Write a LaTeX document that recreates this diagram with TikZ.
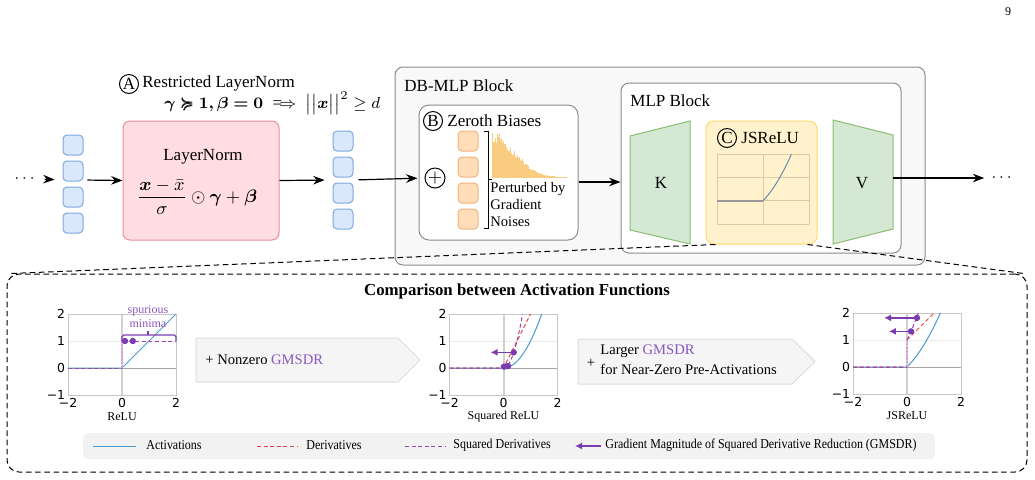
\documentclass[tikz,border=0pt]{standalone}
\usepackage{amsmath,amssymb,bm}
\usepackage{graphicx}
\usepackage{fontspec}
\setmainfont{Liberation Serif}
\newfontfamily\tickfont{DejaVu Sans}
\usetikzlibrary{arrows.meta,positioning,calc}

\definecolor{vecfill}{HTML}{DAE8FC}
\definecolor{vecline}{HTML}{7EA6E0}
\definecolor{lnfill}{HTML}{FFDDE2}
\definecolor{lnline}{HTML}{EA8F9A}
\definecolor{biasfill}{HTML}{FFDDB8}
\definecolor{biasline}{HTML}{F0B37E}
\definecolor{histc}{HTML}{F8C46A}
\definecolor{matfill}{HTML}{D5E8D4}
\definecolor{matline}{HTML}{8DBE72}
\definecolor{jsfill}{HTML}{FFF2CC}
\definecolor{jsline}{HTML}{FFD966}
\definecolor{jsgridc}{HTML}{DCCB9E}
\definecolor{boxline}{HTML}{8C8C8C}
\definecolor{boxfill}{HTML}{F8F8F8}
\definecolor{actc}{HTML}{4C9AD0}
\definecolor{derc}{HTML}{E8454A}
\definecolor{sqc}{HTML}{9A44B0}
\definecolor{sqpink}{HTML}{D99AD6}
\definecolor{gmc}{HTML}{7A3CB0}
\definecolor{gmtxt}{HTML}{8A55C0}
\definecolor{pillfill}{HTML}{F5F5F5}
\definecolor{pillline}{HTML}{DDDDDD}
\definecolor{legfill}{HTML}{F2F2F2}

\newcommand\legtxt[1]{\scalebox{0.88}[1]{#1}}

% axes of one activation plot: #1 label, #2 name prefix
\newcommand\actaxes[2]{%
  \draw[color=black!8, line width=0.4pt] (-2,1) -- (2,1);
  \draw[color=black!18, line width=1pt] (0,-1) -- (0,2);
  \draw[color=black!35, line width=0.5pt] (-2,0) -- (2,0);
  \draw[color=black!22, line width=0.4pt] (-2,-1) rectangle (2,2);
  \foreach \v/\t in {2/2,1/1,0/0,-1/−1}
    \node[tick, anchor=east] (#2y\v) at (-2.02,\v) {\t};
  \foreach \v/\t in {-2/−2,0/0,2/2}
    \node[tick, anchor=north] (#2x\v) at (\v,-1.04) {\t};
  \node[plbl] (#2lbl) at (0,-1.8) {#1};
}

\begin{document}
\begin{tikzpicture}[
  x=0.5pt, y=-0.5pt,
  >=Stealth,
  txt/.style={font=\fontsize{8.5}{10}\selectfont, inner sep=1.5pt},
  smalltxt/.style={font=\fontsize{7.3}{8.6}\selectfont, inner sep=1.5pt},
  tick/.style={font=\tickfont\fontsize{6.2}{7}\selectfont, inner sep=1pt},
  plbl/.style={font=\fontsize{6}{7}\selectfont, inner sep=0pt},
  legt/.style={font=\fontsize{6.8}{8}\selectfont, anchor=west, inner sep=1pt},
  vec/.style={rectangle, rounded corners=2pt, draw=vecline, fill=vecfill, line width=0.5pt, minimum size=10pt, inner sep=0pt},
  bias/.style={vec, draw=biasline, fill=biasfill},
  lnbox/.style={rectangle, rounded corners=3.5pt, draw=lnline, fill=lnfill, line width=0.5pt, minimum width=78pt, minimum height=59.5pt},
  outerbox/.style={rectangle, rounded corners=4pt, draw=boxline, fill=boxfill, line width=0.5pt},
  innerbox/.style={outerbox, fill=white, rounded corners=5pt},
  jsbox/.style={rectangle, rounded corners=4pt, draw=jsline, fill=jsfill, line width=0.5pt, minimum width=55.5pt, minimum height=61.5pt},
  mat/.style={draw=matline, fill=matfill, line width=0.5pt},
  circ/.style={circle, draw, line width=0.5pt, inner sep=0pt, minimum size=9.5pt, font=\fontsize{8.5}{10}\selectfont},
  flow/.style={->, line width=0.6pt},
  act/.style={actc, line width=0.5pt},
  der/.style={derc, line width=0.5pt, dash pattern=on 2pt off 1.3pt},
  sqd/.style={sqc, line width=0.5pt, dash pattern=on 2pt off 1.3pt},
  sqpk/.style={sqpink, line width=1pt, dash pattern=on 1.2pt off 0.6pt},
  gmarr/.style={gmc, line width=0.8pt, -{Latex[length=3.5pt,width=3.5pt]}},
  pill/.style={draw=pillline, fill=pillfill, line width=0.5pt},
  dashbox/.style={rectangle, rounded corners=6pt, draw, line width=0.5pt, dash pattern=on 2.8pt off 1.8pt, minimum width=510pt, minimum height=99pt},
  zoomln/.style={line width=0.5pt, dash pattern=on 2.8pt off 1.8pt}
]
\useasboundingbox (0,0) rectangle (1035,479);

\node[plbl] (pgno) at (1008,12) {9};

% input side
\node[txt] (dotsL) at (26,179) {$\cdots$};
\node[minimum width=10pt, minimum height=49pt, inner sep=0pt] (colL) at (73,180) {};
\foreach \i/\y in {1/145,2/171,3/197,4/223}
  \node[vec] (vecL\i) at (73,\y) {};

\node[lnbox] (ln) at (201,180.5) {};
\node[txt] (lnT) at (203,157) {LayerNorm};
\node[font=\fontsize{9}{10}\selectfont] (lnF) at (197,197) {$\dfrac{\bm{x}-\bar{x}}{\sigma}\odot\bm{\gamma}+\bm{\beta}$};

\node[minimum width=10pt, minimum height=49pt, inner sep=0pt] (colR) at (343,180) {};
\foreach \i/\y in {1/141,2/167,3/193,4/219}
  \node[vec] (vecR\i) at (343,\y) {};

\node[circ] (circA) at (129,84) {A};
\node[txt, anchor=west] (rlnT) at (139,83) {Restricted LayerNorm};
\node[txt, anchor=west] (rlnF) at (161,103) {$\bm{\gamma\succcurlyeq 1,\beta=0}\;\Longrightarrow\;\bigl|\bigl|\bm{x}\bigr|\bigr|^{2}\geq d$};

% DB-MLP block
\node[outerbox, minimum width=265pt, minimum height=99pt] (dbmlp) at (660,166) {};
\node[txt, anchor=west] (dbT) at (401,86) {DB-MLP Block};

\node[innerbox, minimum width=79.5pt, minimum height=67.5pt] (zb) at (498.5,172.5) {};
\node[circ] (circB) at (433,121) {B};
\node[txt, anchor=west] (zbT) at (444,121) {Zeroth Biases};
\node[circle, draw, line width=0.5pt, minimum size=10pt, inner sep=0pt, font=\fontsize{9}{10}\selectfont] (plus) at (435,178) {$+$};
\foreach \i/\y in {1/141,2/167,3/193,4/219}
  \node[bias] (bias\i) at (468,\y) {};
\draw[line width=0.5pt] (484,131) -- (488,131) -- (488,228) -- (484,228);
\draw[line width=0.5pt] (488,179) -- (492,179);
\pgfmathsetseed{7}
\foreach \i in {0,...,74}{
  \pgfmathsetmacro\h{46*exp(-(\i/31)^2)*(0.72+0.28*rnd)+0.8}
  \fill[histc, opacity=0.85] (492+\i,178) rectangle (493+\i,178-\h);
}
\node[smalltxt, anchor=north west, align=left, font=\fontsize{7.3}{8.5}\selectfont] (pert) at (487,179) {Perturbed by\\Gradient\\Noises};

\node[innerbox, minimum width=140pt, minimum height=85pt, rounded corners=4pt] (mlp) at (761,168) {};
\node[txt, anchor=west] (mlpT) at (627,101) {MLP Block};
\draw[mat] (630,136) -- (690,121) -- (690,244) -- (630,230) -- cycle;
\node[txt] (kmat) at (661,183) {K};
\draw[mat] (833,120) -- (893,135) -- (893,229) -- (833,244) -- cycle;
\node[txt] (vmat) at (862,183) {V};
\coordinate (vright) at (893,178);

\node[jsbox] (jsr) at (761.5,182.5) {};
\node[circ] (circC) at (727,138) {C};
\node[txt, anchor=west] (jsT) at (738,138) {JSReLU};
\foreach \xx in {717,763,809}
  \draw[jsgridc, line width=0.5pt] (\xx,154) -- (\xx,224);
\foreach \yy in {154,177.3,200.7,224}
  \draw[jsgridc, line width=0.5pt] (717,\yy) -- (809,\yy);
\draw[black!40, line width=1pt] (717,200.7) -- (763,200.7);
\draw[actc!60!black!70, line width=0.5pt] plot[domain=0:1.236, samples=25] ({763+23*\x},{200.7-23.3*(\x+\x*\x/2)});

\node[txt] (dotsR) at (1003,178) {$\cdots$};

% flow
\draw[flow, shorten <=2pt, shorten >=4pt] (dotsL.east) -- (colL.west);
\draw[flow, shorten <=2pt] (colL.east) -- (ln.west);
\draw[flow, shorten >=4pt] (ln.east) -- (colR.west);
\draw[flow, shorten <=2.5pt, shorten >=3.5pt] (colR.east) -- (plus.west);
\draw[flow] ([yshift=-2pt]plus -| zb.east) -- ([yshift=-2pt]plus -| mlp.west);
\draw[flow, shorten >=2pt] (vright) -- (dotsR.west);

% comparison panel
\node[dashbox] (cmp) at (517,373) {};
\draw[zoomln] ([xshift=5pt]jsr.south west) -- ([xshift=2pt]cmp.north west);
\draw[zoomln] ([xshift=-5pt]jsr.south east) -- ([xshift=-2pt]cmp.north east);
\node[font=\bfseries\fontsize{8.4}{10}\selectfont] (cmpT) at (517,291) {Comparison between Activation Functions};

% ReLU
\begin{scope}[shift={(122,368)}, x=13.5pt, y=13.5pt]
  \actaxes{ReLU}{relu}
  \draw[act] (-2,0) -- (0,0) -- (2,2);
  \draw[der] (-2,0) -- (0,0) (0,1) -- (2,1);
  \draw[sqpk] (0,0) -- (0,1);
  \draw[sqd] (-2,0) -- (0,0) (0,1) -- (2,1);
  \fill[gmc] (0.11,1) circle (1.6pt) (0.4,1) circle (1.6pt);
  \draw[gmc, line width=0.6pt, rounded corners=0.8pt] (0,1) -- (0,1.22) -- (2,1.22) -- (2,1);
  \draw[gmc, line width=0.6pt] (0.96,1.22) -- (0.96,1.36);
  \node[plbl, text=gmtxt, align=center] (spur) at (0.96,1.89) {spurious\\minima};
\end{scope}

\draw[pill] (196,338) -- (398,338) -- (420,360) -- (398,382) -- (196,382) -- cycle;
\node[smalltxt, anchor=west] (gm1T) at (202,360) {+ Nonzero \textcolor{gmtxt}{GMSDR}};

% Squared ReLU
\begin{scope}[shift={(503.5,368)}, x=13.5pt, y=13.5pt]
  \actaxes{Squared ReLU}{sqr}
  \draw[act] (-2,0) -- (0,0) -- plot[domain=0:1.414, samples=30] (\x,{\x*\x});
  \draw[der] (-2,0) -- (0,0) -- (1,2);
  \draw[sqd] (-2,0) -- (0,0) -- plot[domain=0:0.707, samples=20] (\x,{4*\x*\x});
  \draw[gmarr] (0.38,0.58) -- (-0.48,0.58);
  \fill[gmc] (0.38,0.58) circle (1.6pt);
  \draw[gmarr] (0.17,0.07) -- (-0.14,0.07);
  \fill[gmc] (0.17,0.07) circle (1.6pt) (0.02,0.05) circle (1.6pt);
\end{scope}

\draw[pill] (578,339) -- (792,339) -- (815,361.5) -- (792,384) -- (578,384) -- cycle;
\node[smalltxt] (gm2P) at (591,363) {+};
\node[smalltxt, anchor=west, align=left, font=\fontsize{7.3}{10}\selectfont] (gm2T) at (597,360) {Larger \textcolor{gmtxt}{GMSDR}\\for Near-Zero Pre-Activations};

% JSReLU
\begin{scope}[shift={(907,367)}, x=13.5pt, y=13.5pt]
  \actaxes{JSReLU}{jsr}
  \draw[act] (-2,0) -- (0,0) -- plot[domain=0:1.236, samples=30] (\x,{\x+\x*\x/2});
  \draw[der] (-2,0) -- (0,0) (0,1) -- (1,2);
  \draw[sqpk] (0,0) -- (0,1);
  \draw[sqd] (-2,0) -- (0,0) (0,1) -- plot[domain=0:0.414, samples=15] (\x,{(1+\x)^2});
  \draw[gmarr] (0.37,1.82) -- (-0.85,1.82);
  \fill[gmc] (0.37,1.82) circle (1.6pt);
  \draw[gmarr] (0.15,1.32) -- (-0.67,1.32);
  \fill[gmc] (0.15,1.32) circle (1.6pt);
\end{scope}

% legend
\node[fill=legfill, rounded corners=2.5pt, minimum width=426pt, minimum height=13pt, inner sep=0pt] (leg) at (509,446) {};
\draw[act] (93,446) -- (136,446);
\node[legt] (legA) at (144,445) {\legtxt{Activations}};
\draw[der] (257,446) -- (297,446);
\node[legt] (legD) at (304,445) {\legtxt{Derivatives}};
\draw[sqd] (405,446) -- (445,446);
\node[legt] (legS) at (451,445) {\legtxt{Squared Derivatives}};
\draw[gmarr] (601,446) -- (575,446);
\node[legt] (legG) at (603,445) {\legtxt{Gradient Magnitude of Squared Derivative Reduction (GMSDR)}};
\end{tikzpicture}
\end{document}
